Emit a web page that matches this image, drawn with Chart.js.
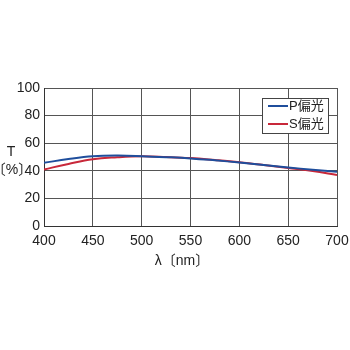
<!DOCTYPE html>
<html>
<head>
<meta charset="utf-8">
<script src="https://cdn.jsdelivr.net/npm/chart.js@4"></script>
<style>
  html, body { margin: 0; padding: 0; background: #fff; }
  #wrap { width: 350px; height: 350px; }
</style>
</head>
<body>
<div id="wrap"><canvas id="grafico" width="350" height="350"></canvas></div>
<script>
// longitudes de onda (nm) y transmitancia (%)
var longitudes = [400, 425, 450, 475, 500, 525, 550, 575, 600, 625, 650, 675, 700];
var valoresP = [45.8, 48.5, 50.5, 51.0, 50.6, 49.9, 49.0, 47.6, 46.0, 44.2, 42.4, 40.8, 39.3];
var valoresS = [41.0, 45.0, 48.4, 49.8, 50.5, 50.0, 49.2, 47.8, 46.2, 44.2, 42.0, 39.8, 37.0];
var etiquetas = ['P偏光', 'S偏光'];
var ticksY = [0, 20, 40, 60, 80, 100];
var ticksX = [400, 450, 500, 550, 600, 650, 700];

const fuente = '"Liberation Sans", Arial, sans-serif';
const fuenteCJK = '"Liberation Sans", "Noto Sans CJK JP", sans-serif';

function puntos(valores) {
    return longitudes.map(function (x, i) { return { x: x, y: valores[i] }; });
}

// titulos de ejes y leyenda dibujados a mano
const textos = {
    id: 'textos',
    afterDraw: function (chart) {
        const ctx = chart.ctx;
        const area = chart.chartArea;
        ctx.save();
        ctx.fillStyle = '#222';
        ctx.font = '14px ' + fuente;
        ctx.textAlign = 'center';
        ctx.textBaseline = 'middle';
        ctx.fillText('T', 11, 152);
        ctx.font = '14px ' + fuenteCJK;
        ctx.fillText('〔%〕', 12, 170);
        ctx.fillText('λ〔nm〕', 182, 261);

        // leyenda
        const lx = 262, ly = 98, lw = 66, lh = 35;
        ctx.fillStyle = '#fff';
        ctx.fillRect(lx, ly, lw, lh);
        ctx.strokeStyle = '#444';
        ctx.lineWidth = 1;
        ctx.strokeRect(lx + 0.5, ly + 0.5, lw, lh);
        ctx.font = '13px ' + fuenteCJK;
        chart.data.datasets.forEach(function (ds, i) {
            const y = ly + 8 + i * 18;
            ctx.strokeStyle = ds.borderColor;
            ctx.lineWidth = 2;
            ctx.beginPath();
            ctx.moveTo(lx + 6, y);
            ctx.lineTo(lx + 26, y);
            ctx.stroke();
            ctx.fillStyle = '#222';
            ctx.textAlign = 'left';
            ctx.fillText(ds.label, lx + 27, y);
        });
        ctx.restore();
    }
};

const ctx = document.getElementById('grafico').getContext('2d');
const grafico = new Chart(ctx, {
    type: 'line',
    data: {
        datasets: [{
            label: etiquetas[0],
            data: puntos(valoresP),
            borderColor: '#1f4e9c',
            borderWidth: 2,
            pointRadius: 0,
            tension: 0.4,
            fill: false
        }, {
            label: etiquetas[1],
            data: puntos(valoresS),
            borderColor: '#c8283a',
            borderWidth: 2,
            pointRadius: 0,
            tension: 0.4,
            fill: false
        }]
    },
    options: {
        responsive: false,
        animation: false,
        layout: { padding: { top: 88, right: 13, left: 0, bottom: 0 } },
        plugins: {
            legend: { display: false },
            tooltip: { enabled: false }
        },
        scales: {
            x: {
                type: 'linear',
                min: 400,
                max: 700,
                afterBuildTicks: function (s) { s.ticks = ticksX.map(function (v) { return { value: v }; }); },
                afterFit: function (s) { s.height = 124; s.paddingLeft = 0; s.paddingRight = 0; },
                grid: { color: '#555', lineWidth: 1, drawTicks: false },
                border: { color: '#333', width: 1 },
                ticks: { padding: 7, color: '#222', font: { family: fuente, size: 14 } }
            },
            y: {
                min: 0,
                max: 100,
                afterBuildTicks: function (s) { s.ticks = ticksY.map(function (v) { return { value: v }; }); },
                afterFit: function (s) { s.width = 44; s.paddingTop = 0; s.paddingBottom = 0; },
                grid: { color: '#555', lineWidth: 1, drawTicks: false },
                border: { color: '#333', width: 1 },
                ticks: { padding: 4, color: '#222', font: { family: fuente, size: 14 } }
            }
        }
    },
    plugins: [textos]
});
</script>
</body>
</html>
